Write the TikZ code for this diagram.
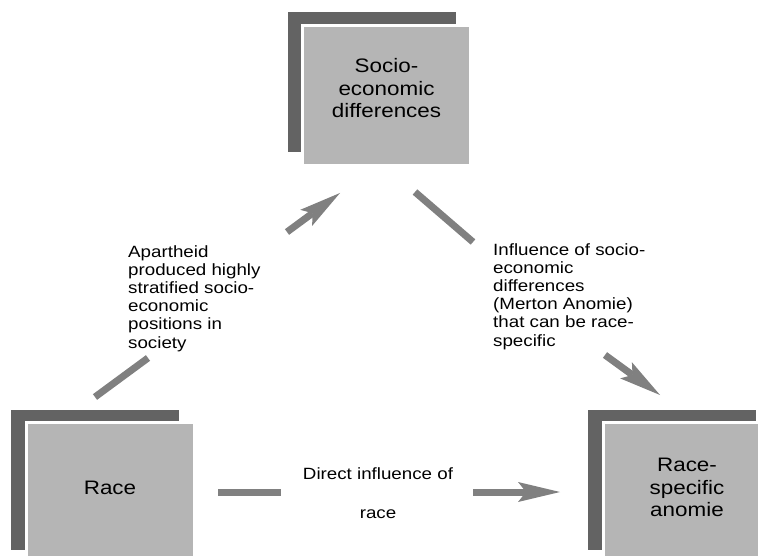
\documentclass[tikz,border=0pt]{standalone}
\usepackage{fontspec}
\setmainfont{Liberation Sans}[FakeStretch=1.15]
\usepackage{xcolor}
\usetikzlibrary{shapes, positioning, arrows.meta, shadows}
\definecolor{boxcolor}{gray}{0.71}
\definecolor{shadecolor}{gray}{0.39}
\definecolor{arrowcolor}{gray}{0.5}
\newcommand{\boxfont}{\fontsize{19.5}{22.5}\selectfont}
\newcommand{\notefont}{\fontsize{16.3}{18.2}\selectfont}

\begin{document}
\begin{tikzpicture}[x=1pt, y=1pt,
    box/.style={rectangle, fill=boxcolor, draw=white, line width=3pt,
      minimum width=168pt, minimum height=140pt, inner sep=0pt,
      align=center, font=\boxfont, text depth=10pt,
      copy shadow={shadow xshift=-15pt, shadow yshift=13pt, fill=shadecolor, draw=none}},
    note/.style={align=left, inner sep=0pt, font=\notefont},
    bar/.style={draw=arrowcolor, line width=7pt},
    bararrow/.style={bar, -{Stealth[length=42pt, width=20pt, inset=8pt, line width=0pt]}}]
        \clip (0,0) rectangle (758,555);
        \fill[white] (0,0) rectangle (758,555);

        \node[box, text depth=15pt] (SE) at (386.5,459.5) {Socio-\\economic\\differences};
        \node[box] (R) at (110,62.5) {Race};
        \node[box] (RA) at (687,62.5) {Race-\\specific\\anomie};

        \node[note, anchor=north west] (N1) at (128,310) {Apartheid\\produced highly\\stratified socio-\\economic\\positions in\\society};
        \node[note, anchor=north west] (N2) at (493,312) {Influence of socio-\\economic\\differences\\(Merton Anomie)\\that can be race-\\specific};
        \node[note, align=center, anchor=north] (N3) at (378,88) {Direct influence of\\[20.8pt]race};

        % Race -> socio-economic differences
        \coordinate (a1) at (95,158);
        \coordinate (a2) at (148,197);
        \coordinate (a3) at (287,323);
        \coordinate (a4) at (340,362);
        \draw[bar] (a1) -- (a2);
        \draw[bararrow] (a3) -- (a4);

        % socio-economic differences -> anomie
        \coordinate (b1) at (415,363);
        \coordinate (b2) at (473,313);
        \coordinate (b3) at (605,200);
        \coordinate (b4) at (660,160);
        \draw[bar] (b1) -- (b2);
        \draw[bararrow] (b3) -- (b4);

        % Race -> anomie
        \coordinate (c1) at (218,63);
        \coordinate (c2) at (281,63);
        \coordinate (c3) at (473,63);
        \coordinate (c4) at (560,63);
        \draw[bar] (c1) -- (c2);
        \draw[bararrow] (c3) -- (c4);
      \end{tikzpicture}
\end{document}
